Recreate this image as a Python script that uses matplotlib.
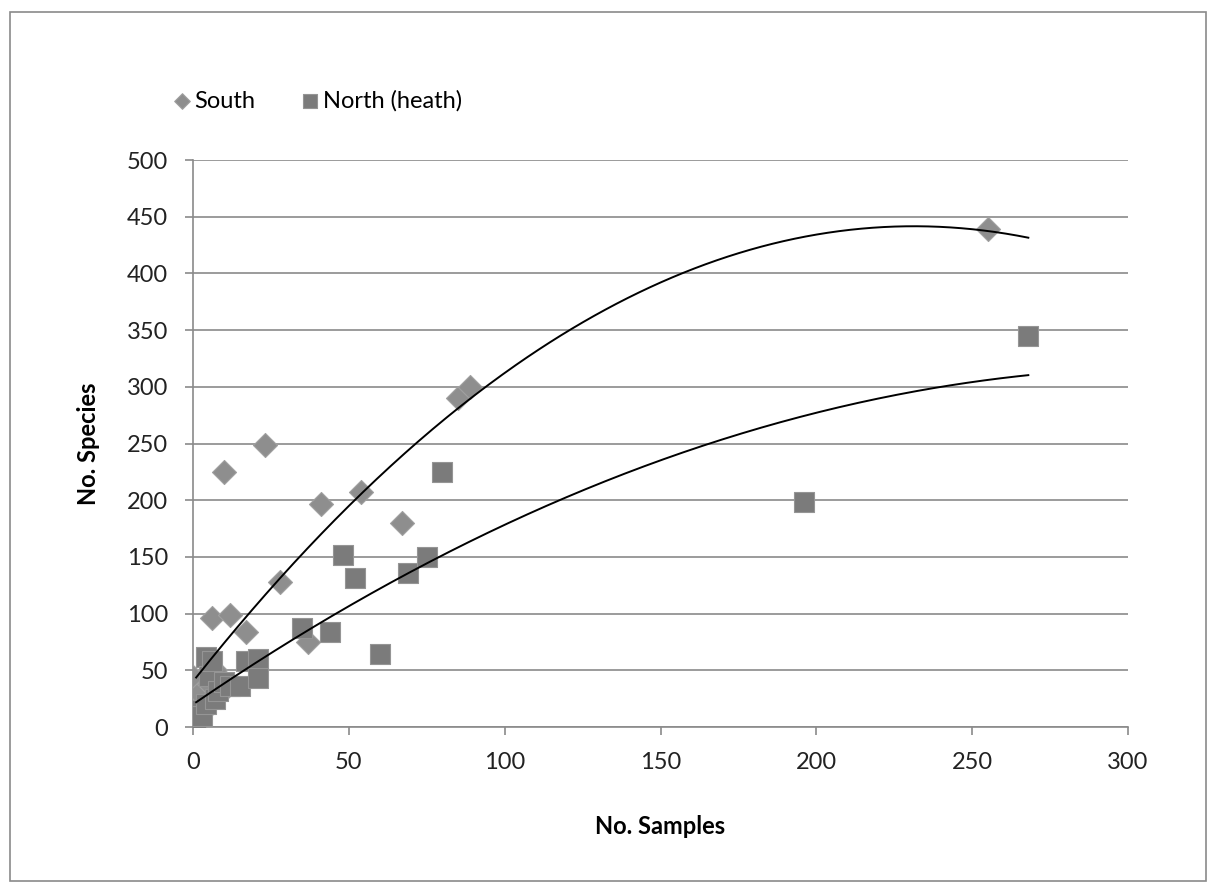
# Species vs samples scatter with 2nd order trendlines

import numpy as np
import matplotlib.pyplot as plt
from matplotlib.patches import Rectangle

plt.rcParams['font.family'] = ['Lato', 'DejaVu Sans']

# South (diamonds)
south_x = [0, 1, 2, 2, 3, 4, 5, 7, 8, 6, 12, 10, 17, 23, 28, 37, 41, 54, 67, 85, 89, 255]
south_y = [44, 15, 8, 30, 12, 20, 38, 50, 27, 96, 99, 225, 84, 249, 128, 75, 197, 207, 180, 290, 300, 439]

# North (heath) (squares)
north_x = [0, 1, 1, 2, 3, 4, 4, 5, 6, 7, 8, 10, 12, 15, 17, 21, 21,
           35, 44, 48, 52, 60, 69, 75, 80, 196, 268]
north_y = [5, 1, 4, 15, 10, 20, 62, 45, 58, 25, 32, 40, 36, 36, 58, 60, 43,
           87, 84, 152, 131, 64, 136, 150, 225, 198, 345]

x_ticks = [0, 50, 100, 150, 200, 250, 300]
y_ticks = [0, 50, 100, 150, 200, 250, 300, 350, 400, 450, 500]

fig = plt.figure(figsize=(12.11, 8.85), dpi=100)
ax = fig.add_axes([0.1594, 0.1785, 0.7721, 0.6407])

ax.scatter(south_x, south_y, marker='D', s=150, color='#8e8e8e',
           edgecolors='#a0a0a0', linewidths=0.8, label='South', zorder=3)
ax.scatter(north_x, north_y, marker='s', s=210, color='#7b7b7b',
           edgecolors='#959595', linewidths=0.8, label='North (heath)', zorder=3)

# polynomial trendlines (order 2)
xs = np.linspace(1, max(max(south_x), max(north_x)), 300)
for sx, sy in [(south_x, south_y), (north_x, north_y)]:
    coef = np.polyfit(sx, sy, 2)
    ax.plot(xs, np.polyval(coef, xs), color='black', lw=1.4, zorder=4)

ax.set_xlim(0, 300)
ax.set_ylim(0, 500)
ax.set_xticks(x_ticks)
ax.set_yticks(y_ticks)
ax.yaxis.grid(True, color='#8a8a8a', lw=1.2)
ax.set_axisbelow(True)
for s in ['top', 'right']:
    ax.spines[s].set_visible(False)
for s in ['left', 'bottom']:
    ax.spines[s].set_color('#8a8a8a')
    ax.spines[s].set_linewidth(1.2)
ax.tick_params(axis='both', colors='#8a8a8a', labelcolor='#222222',
               labelsize=17, length=6, width=1.2)
ax.tick_params(axis='y', pad=12)
ax.tick_params(axis='x', pad=12)

ax.set_xlabel('No. Samples', fontsize=17, fontweight='bold', labelpad=30)
ax.set_ylabel('No. Species', fontsize=17, fontweight='bold', labelpad=19)

fig.legend(loc='center left', bbox_to_anchor=(0.113, 0.886), ncol=2,
           frameon=False, fontsize=17, handletextpad=-0.45, columnspacing=1.3,
           markerscale=0.65)

fig.patches.append(Rectangle((0.008, 0.004), 0.988, 0.982, transform=fig.transFigure,
                             fill=False, edgecolor='#8a8a8a', lw=1.2))

plt.savefig('out.png')
